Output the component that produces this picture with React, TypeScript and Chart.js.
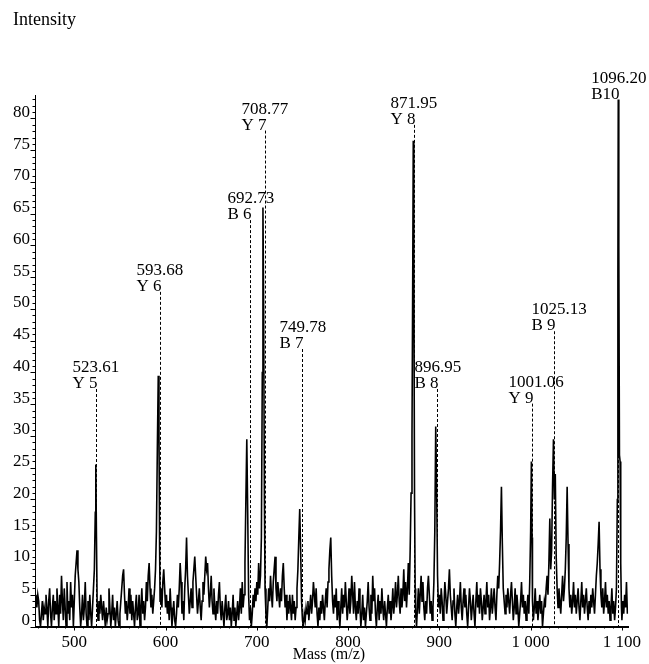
import React, { useEffect, useRef } from "react";
import { Chart, registerables } from "chart.js";

Chart.register(...registerables);

// ---- data ----
const spectrumPoints: [number, number][] = [
  [458,5],[459,3],[460,5],[461,4],[462,1],[463,0],[464,2],[465,4],[466,1],[467,3],[468,2],[469,5],[470,3],[471,0],[472,4],[473,6],[474,2],[475,0],[476,3],[477,5],[478,1],[479,4],[480,2],[481,6],[482,3],[483,0],[484,5],[485,2],[486,8],[487,4],[488,1],[489,6],[490,3],[491,0],[492,7],[493,2],[494,4],[495,1],[496,7],[497,3],[498,5],[499,0],[500,4],
  [501,8],[502,10],[503,12],[504,9],[505,7],[506,3],[507,0],[508,2],[509,5],[510,1],[511,3],[512,7],[513,2],[514,0],[515,4],[516,1],[517,5],[518,2],[519,0],[520,3],[521,6],[522,9],[523,18],[523.6,25.5],[524.3,14],[525,4],[526,1],[527,4],[528,2],[529,5],[530,3],[531,1],[532,4],[533,2],[534,0],[535,3],[536,1],[537,2],[538,6],[539,3],[540,0],[541,2],[542,5],[543,1],[544,3],[545,0],[546,2],[547,4],[548,1],[549,0],[550,2],
  [551,4],[552,6],[553,8],[554,9],[555,5],[556,2],[557,4],[558,1],[559,3],[560,6],[561,2],[562,5],[563,1],[564,4],[565,2],[566,0],[567,3],[568,5],[569,1],[570,2],[571,5],[572,0],[573,3],[574,6],[575,2],[576,4],[577,1],[578,3],[579,7],[580,4],[581,8],[582,10],[583,6],[584,3],[585,5],[586,2],[587,4],[588,6],[589,9],[590,15],[591,28],[592,39.5],[592.8,30],[593.5,12],[594,4],[595,6],[596,3],[597,7],[598,9],[599,6],[600,3],
  [601,5],[602,2],[603,4],[604,1],[605,6],[606,3],[607,0],[608,2],[609,4],[610,1],[611,0],[612,2],[613,5],[614,3],[615,6],[616,10],[617,7],[618,2],[619,4],[620,1],[621,6],[622,9],[623,14],[624,8],[625,5],[626,2],[627,4],[628,6],[629,3],[630,7],[631,9],[632,11],[633,8],[634,5],[635,2],[636,4],[637,6],[638,3],[639,1],[640,4],[641,7],[642,5],[643,8],[644,11],[645,9],[646,10],[647,6],[648,3],[649,5],[650,8],
  [651,4],[652,2],[653,6],[654,3],[655,1],[656,4],[657,2],[658,5],[659,7],[660,3],[661,1],[662,4],[663,2],[664,0],[665,3],[666,5],[667,1],[668,2],[669,4],[670,1],[671,3],[672,0],[673,2],[674,5],[675,1],[676,3],[677,0],[678,2],[679,4],[680,1],[681,3],[682,6],[683,2],[684,7],[685,3],[686,5],[687,10],[688,20],[689,29.5],[690,18],[691,5],[692,1],[693,3],[694,0],[695,2],[696,5],[697,3],[698,6],[699,4],[700,7],
  [701,5],[702,10],[703,6],[704,8],[705,14],[706,40],[706.7,66],[707.5,50],[708.3,20],[709,6],[710,2],[711,0],[712,3],[713,6],[714,4],[715,8],[716,5],[717,3],[718,7],[719,9],[720,11],[721,6],[722,4],[723,7],[724,5],[725,3],[726,6],[727,4],[728,8],[729,10],[730,6],[731,3],[732,5],[733,1],[734,4],[735,2],[736,5],[737,3],[738,1],[739,5],[740,2],[741,4],[742,1],[743,3],[744,6],[745,9],[746,14],[747,18.5],[748,12],[749,4],[750,1],
  [751,0],[752,2],[753,1],[754,3],[755,2],[756,4],[757,1],[758,3],[759,5],[760,2],[761,4],[762,7],[763,5],[764,3],[765,6],[766,2],[767,0],[768,3],[769,1],[770,4],[771,2],[772,5],[773,3],[774,1],[775,4],[776,6],[777,3],[778,7],[779,9],[780,12],[781,14],[782,8],[783,4],[784,2],[785,5],[786,3],[787,6],[788,1],[789,4],[790,2],[791,0],[792,3],[793,6],[794,2],[795,5],[796,3],[797,7],[798,4],[799,1],[800,3],
  [801,6],[802,2],[803,4],[804,8],[805,5],[806,2],[807,7],[808,3],[809,1],[810,4],[811,2],[812,6],[813,3],[814,0],[815,2],[816,5],[817,1],[818,3],[819,0],[820,2],[821,4],[822,7],[823,3],[824,1],[825,5],[826,2],[827,8],[828,4],[829,6],[830,2],[831,0],[832,3],[833,5],[834,1],[835,4],[836,2],[837,6],[838,3],[839,1],[840,4],[841,2],[842,0],[843,3],[844,5],[845,2],[846,4],[847,1],[848,3],[849,6],[850,2],
  [851,4],[852,7],[853,3],[854,5],[855,8],[856,4],[857,2],[858,6],[859,3],[860,5],[861,9],[862,4],[863,7],[864,3],[865,6],[866,10],[867,5],[868,12],[869,21],[870,30],[870.8,55],[871.4,76.5],[872,58],[872.8,20],[873.5,6],[874,2],[875,0],[876,3],[877,6],[878,2],[879,5],[880,8],[881,4],[882,7],[883,3],[884,1],[885,4],[886,2],[887,6],[888,8],[889,5],[890,2],[891,4],[892,1],[893,3],[894,7],[895,15],[896,31.5],[897,22],[898,8],[899,3],[900,5],
  [901,2],[902,6],[903,4],[904,1],[905,3],[906,7],[907,5],[908,2],[909,4],[910,6],[911,9],[912,5],[913,3],[914,1],[915,4],[916,6],[917,2],[918,0],[919,3],[920,5],[921,2],[922,4],[923,7],[924,3],[925,1],[926,4],[927,6],[928,3],[929,5],[930,2],[931,0],[932,3],[933,6],[934,4],[935,1],[936,3],[937,5],[938,2],[939,0],[940,4],[941,7],[942,3],[943,5],[944,2],[945,6],[946,4],[947,1],[948,3],[949,5],[950,2],
  [951,4],[952,7],[953,3],[954,5],[955,1],[956,3],[957,6],[958,2],[959,4],[960,6],[961,3],[962,1],[963,5],[964,8],[965,6],[966,10],[967,15],[968,22],[969,13],[970,6],[971,4],[972,2],[973,5],[974,3],[975,6],[976,4],[977,2],[978,5],[979,7],[980,4],[981,1],[982,3],[983,6],[984,2],[985,5],[986,3],[987,0],[988,2],[989,4],[990,7],[991,3],[992,5],[993,2],[994,4],[995,1],[996,3],[997,5],[998,2],[999,7],[1000,15],
  [1000.8,26],[1001.5,14],[1002,4],[1003,1],[1004,3],[1005,6],[1006,2],[1007,4],[1008,1],[1009,3],[1010,5],[1011,2],[1012,4],[1013,0],[1014,2],[1015,4],[1016,3],[1017,6],[1018,8],[1019,5],[1020,10],[1021,17],[1022,9],[1023,12],[1024,22],[1025,29.5],[1026,20],[1027,24],[1028,11],[1029,6],[1030,3],[1031,6],[1032,4],[1033,2],[1034,5],[1035,8],[1036,4],[1037,6],[1038,9],[1039,14],[1040,22],[1041,13],[1042,6],[1043,3],[1044,5],[1045,2],[1046,4],[1047,7],[1048,3],[1049,5],[1050,2],
  [1051,4],[1052,6],[1053,3],[1054,1],[1055,4],[1056,7],[1057,3],[1058,5],[1059,2],[1060,4],[1061,6],[1062,3],[1063,1],[1064,4],[1065,2],[1066,5],[1067,3],[1068,6],[1069,4],[1070,2],[1071,5],[1072,8],[1073,10],[1074,13],[1075,16.5],[1076,9],[1077,5],[1078,3],[1079,6],[1080,2],[1081,4],[1082,7],[1083,3],[1084,5],[1085,2],[1086,4],[1087,1],[1088,3],[1089,6],[1090,2],[1091,4],[1092,1],[1093,3],[1094,6],[1095,20],[1095.6,55],[1096,83],[1096.6,60],[1097.3,27],[1098,26],[1098.7,10],[1099.5,3],[1100,1],
  [1101,4],[1102,2],[1103,5],[1104,3],[1105,7],[1106,2]
];

const annotationMz = [523.61, 593.68, 692.73, 708.77, 749.78, 871.95, 896.95, 1001.06, 1025.13, 1096.2];
const annotationIon = ["Y 5", "Y 6", "B 6", "Y 7", "B 7", "Y 8", "B 8", "Y 9", "B 9", "B10"];
const annotationLevel = [37.4, 52.7, 64.0, 78.1, 43.7, 79.0, 37.4, 35.1, 46.5, 82.9];

const xTickValues = [500, 600, 700, 800, 900, 1000, 1100];
const yAxisTitle = "Intensity";
const xAxisTitle = "Mass (m/z)";

const FONT = "'Liberation Serif', 'Times New Roman', serif";
const FS = 17;

function fmtMass(v: number): string {
  if (v >= 1000) {
    const th = Math.floor(v / 1000);
    const rest = String(Math.round(v % 1000)).padStart(3, "0");
    return th + " " + rest;
  }
  return String(v);
}

const decorPlugin = {
  id: "decor",
  afterDatasetsDraw(chart: any) {
    const ctx = chart.ctx;
    const xs = chart.scales.x;
    const ys = chart.scales.y;
    const area = chart.chartArea;
    ctx.save();
    ctx.strokeStyle = "#000";
    ctx.fillStyle = "#000";
    // annotations
    ctx.font = `${FS}px ${FONT}`;
    ctx.textBaseline = "alphabetic";
    ctx.textAlign = "left";
    for (let i = 0; i < annotationMz.length; i++) {
      const x = Math.round(xs.getPixelForValue(annotationMz[i])) + 0.5;
      const yTop = ys.getPixelForValue(annotationLevel[i]);
      const yBot = ys.getPixelForValue(0);
      ctx.lineWidth = 1;
      ctx.setLineDash([3, 2]);
      ctx.beginPath();
      ctx.moveTo(x, yTop);
      ctx.lineTo(x, yBot);
      ctx.stroke();
      ctx.setLineDash([]);
      const ion = annotationIon[i];
      const w = ctx.measureText(ion).width;
      const left = x - w + 1;
      ctx.fillText(ion, left, yTop - 1);
      ctx.fillText(annotationMz[i].toFixed(2), left, yTop - 17);
    }
    // minor / major ticks
    ctx.lineWidth = 1;
    for (let v = 0; v <= 83; v++) {
      const y = Math.round(ys.getPixelForValue(v)) + 0.5;
      const len = v % 5 === 0 ? 5 : 3;
      ctx.beginPath();
      ctx.moveTo(area.left - len, y);
      ctx.lineTo(area.left, y);
      ctx.stroke();
    }
    for (let v = 460; v <= 1100; v += 10) {
      const x = Math.round(xs.getPixelForValue(v)) + 0.5;
      const len = v % 100 === 0 ? 4 : 2;
      ctx.beginPath();
      ctx.moveTo(x, area.bottom);
      ctx.lineTo(x, area.bottom + len);
      ctx.stroke();
    }
    // axis titles
    ctx.textBaseline = "middle";
    ctx.textAlign = "left";
    ctx.font = `18px ${FONT}`;
    ctx.fillText(yAxisTitle, 13, 20);
    ctx.textAlign = "center";
    ctx.font = `16px ${FONT}`;
    ctx.fillText(xAxisTitle, (area.left + area.right) / 2 - 3, 655);
    ctx.restore();
  },
};

export default function App() {
  const ref = useRef<HTMLCanvasElement | null>(null);
  useEffect(() => {
    if (!ref.current) return;
    const chart = new Chart(ref.current, {
      type: "line",
      data: {
        datasets: [
          {
            data: spectrumPoints.map(([x, y]) => ({ x, y })),
            borderColor: "#000",
            borderWidth: 1.6,
            pointRadius: 0,
            tension: 0,
            fill: false,
          },
        ],
      },
      options: {
        responsive: false,
        animation: false,
        events: [],
        layout: { padding: { left: 0, top: 95, right: 20.7, bottom: 0 } },
        plugins: { legend: { display: false }, tooltip: { enabled: false }, title: { display: false } },
        scales: {
          x: {
            type: "linear",
            min: 457.5,
            max: 1107,
            afterFit: (s: any) => { s.height = 37.5; },
            afterBuildTicks: (s: any) => { s.ticks = xTickValues.map((v) => ({ value: v })); },
            grid: { display: false, drawTicks: false },
            border: { display: true, color: "#000", width: 2 },
            ticks: {
              autoSkip: false,
              maxRotation: 0,
              padding: 6,
              color: "#000",
              font: { family: FONT, size: FS },
              callback: (v: any) => fmtMass(Number(v)),
            },
          },
          y: {
            type: "linear",
            min: 0,
            max: 83.7,
            afterFit: (s: any) => { s.width = 35.5; },
            grid: { display: false, drawTicks: false },
            border: { display: true, color: "#000", width: 1 },
            ticks: {
              stepSize: 5,
              includeBounds: false,
              autoSkip: false,
              padding: 5.5,
              labelOffset: -6,
              color: "#000",
              font: { family: FONT, size: FS },
            },
          },
        },
      },
      plugins: [decorPlugin],
    });
    return () => chart.destroy();
  }, []);
  return (
    <div style={{ position: "absolute", left: 0, top: 0, width: 649, height: 664, background: "#fff" }}>
      <canvas ref={ref} width={649} height={664} style={{ display: "block" }} />
    </div>
  );
}
